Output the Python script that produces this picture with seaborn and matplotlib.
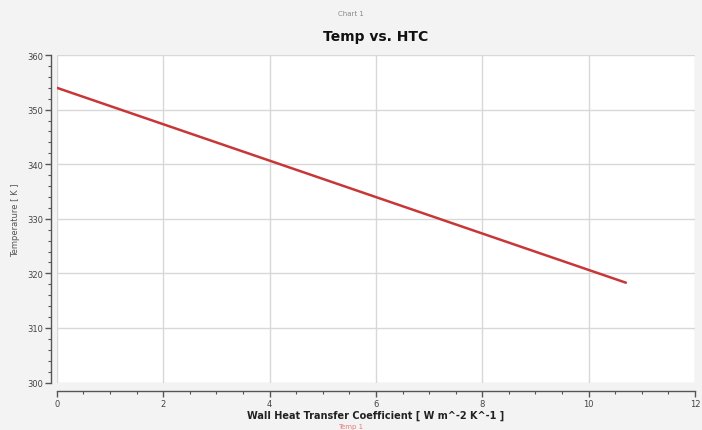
import matplotlib
matplotlib.use("Agg")
import matplotlib.pyplot as plt
from matplotlib.ticker import MultipleLocator
import seaborn as sns
import pandas as pd

htc = [0.0, 10.7]
temp = [354.0, 318.3]
series_name = "Temp 1"
title = "Temp vs. HTC"
chart_name = "Chart 1"
xlabel = "Wall Heat Transfer Coefficient [ W m^-2 K^-1 ]"
ylabel = "Temperature [ K ]"

df = pd.DataFrame({"htc": htc, "temp": temp})

sns.set_theme(style="whitegrid")
plt.rcParams['font.family'] = ['DejaVu Sans']

fig = plt.figure(figsize=(7.02, 4.31), dpi=100)
fig.patch.set_facecolor("#f3f3f3")
ax = fig.add_axes([0.081, 0.11, 0.909, 0.76])
ax.set_facecolor("white")

sns.lineplot(data=df, x="htc", y="temp", ax=ax, color="#c83737", linewidth=1.8)

ax.set_xlim(0, 12)
ax.set_ylim(300, 360)
ax.xaxis.set_major_locator(MultipleLocator(2))
ax.xaxis.set_minor_locator(MultipleLocator(0.5))
ax.yaxis.set_major_locator(MultipleLocator(10))
ax.yaxis.set_minor_locator(MultipleLocator(2))
ax.grid(True, which="major", color="#d8d8d8", linewidth=1)
ax.tick_params(axis="both", which="major", length=4, width=1, color="#555555",
               labelsize=6, labelcolor="#444444", pad=2, direction="out")
ax.tick_params(axis="both", which="minor", length=2.5, width=0.8, color="#555555", direction="out")
ax.tick_params(bottom=True, left=True, which="both")

for s in ["top", "right"]:
    ax.spines[s].set_visible(False)
ax.spines["left"].set_position(("outward", 4))
ax.spines["bottom"].set_position(("outward", 6))
ax.spines["left"].set_color("#555555")
ax.spines["bottom"].set_color("#555555")
ax.spines["left"].set_linewidth(1)
ax.spines["bottom"].set_linewidth(1)

ax.set_xlabel(xlabel, fontsize=7, fontweight="bold", color="#222222", labelpad=1)
ax.set_ylabel(ylabel, fontsize=6, color="#555555", labelpad=5)
ax.set_title(title, fontsize=10, fontweight="bold", color="#111111", pad=11)

fig.text(0.5, 0.975, chart_name, ha="center", va="top", fontsize=5, color="#888888")
fig.text(0.5, 0.003, series_name, ha="center", va="bottom", fontsize=5, color="#e08080")

fig.savefig("out.png", dpi=100, facecolor=fig.get_facecolor())
